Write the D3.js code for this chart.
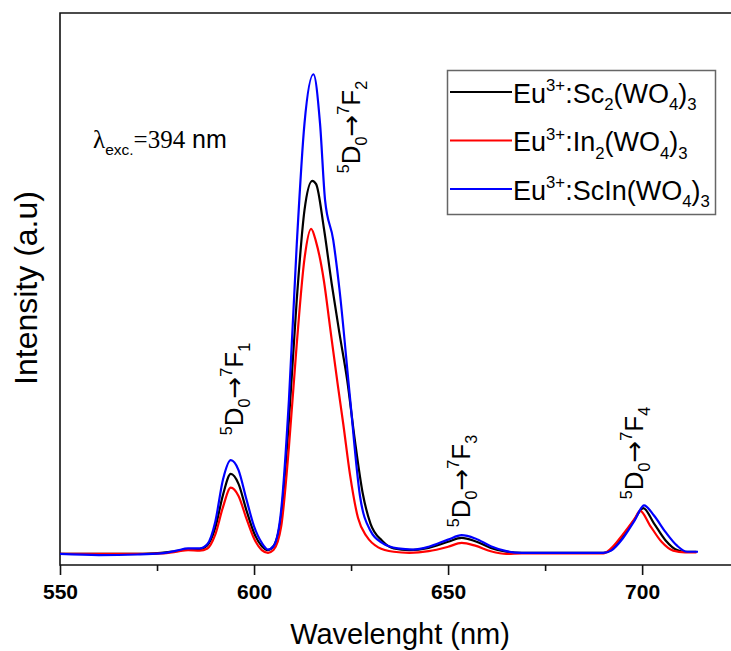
<!DOCTYPE html>
<html><head><meta charset="utf-8">
<script src="https://cdn.jsdelivr.net/npm/d3@7"></script>
<style>html,body{margin:0;padding:0;background:#fff;}svg{display:block;}</style>
</head><body>
<svg id="c" width="731" height="651"></svg>
<script>
// Wavelength (nm) and intensity (a.u.)
const wlBlack = [550,560,570,576,580,583,586,588,590,592,594,596,598,600,602,603.6,605,607,609,611,613,615,616,618,620,622,624,626,628,630,633,636,640,645,650,653.5,657,661,665,669,690,692,695,698,700.3,703,706,709,711,714];
const black   = [0.020,0.020,0.020,0.022,0.025,0.029,0.029,0.036,0.067,0.127,0.165,0.147,0.100,0.058,0.034,0.027,0.034,0.091,0.263,0.480,0.643,0.696,0.690,0.610,0.510,0.420,0.335,0.225,0.130,0.075,0.044,0.030,0.027,0.031,0.042,0.049,0.043,0.031,0.024,0.022,0.022,0.027,0.051,0.082,0.103,0.076,0.045,0.027,0.024,0.024];

const wlRed = [550,560,570,576,580,583,586,588,590,592,594,596,598,600,602,603.6,605,607,609,611,613,614.7,616,618,619.6,621.6,623,624.7,626.8,629,632,636,640,645,650,653.5,657,661,665,669,690,692,695,698,699.5,702,705,708,711,714];
const red   = [0.020,0.020,0.020,0.021,0.024,0.027,0.026,0.030,0.055,0.105,0.140,0.125,0.085,0.048,0.027,0.022,0.027,0.070,0.215,0.400,0.555,0.609,0.585,0.515,0.430,0.325,0.255,0.165,0.085,0.052,0.032,0.024,0.022,0.025,0.033,0.040,0.035,0.025,0.020,0.021,0.021,0.030,0.055,0.083,0.098,0.072,0.042,0.026,0.023,0.023];

const wlBlue = [550,560,570,576,580,583,586,588,590,592,594,596,598,600,602,603.6,605,607,609,611,613,615.3,617,618.3,620.4,622,624.7,627.3,630,633,637,641,645,650,653.5,657,661,665,669,690,692,695,698,700.5,703,706,709,711.6,714.4];
const blue   = [0.020,0.018,0.019,0.021,0.026,0.030,0.030,0.038,0.078,0.155,0.190,0.172,0.120,0.070,0.040,0.028,0.034,0.100,0.300,0.580,0.800,0.889,0.800,0.661,0.589,0.500,0.305,0.125,0.062,0.040,0.030,0.028,0.033,0.046,0.054,0.048,0.034,0.025,0.022,0.022,0.026,0.048,0.080,0.108,0.090,0.060,0.035,0.024,0.024];

const xTicks = [550,600,650,700];
const xMinorTicks = [575,625,675];
const seriesNames = ["Sc", "In", "ScIn"];
const seriesColors = ["#000000","#ff0000","#0000ff"];

const svg = d3.select("#c");
const L = 60, T = 13, R = 731, B = 565;
const x = d3.scaleLinear().domain([550, 722.9]).range([L, R]);
const y = d3.scaleLinear().domain([0, 1]).range([B, T]);

// frame
svg.append("path").attr("d", `M${R+2},${T}H${L}V${B}H${R+2}`)
  .attr("fill","none").attr("stroke","#111").attr("stroke-width",1.6);

// x axis ticks
const xa = svg.append("g").attr("transform",`translate(0,${B})`)
  .call(d3.axisBottom(x).tickValues(xTicks).tickSize(10).tickPadding(9).tickFormat(d3.format("d")));
xa.select(".domain").remove();
xa.selectAll("line").attr("stroke","#111").attr("stroke-width",1.6);
xa.selectAll("text").attr("font-family","Liberation Sans, Arial, sans-serif")
  .attr("font-size",21).attr("font-weight","bold").attr("fill","#000");
const xm = svg.append("g").attr("transform",`translate(0,${B})`)
  .call(d3.axisBottom(x).tickValues(xMinorTicks).tickSize(6).tickFormat(""));
xm.select(".domain").remove();
xm.selectAll("line").attr("stroke","#111").attr("stroke-width",1.6);

// series
const line = d3.line().x(d=>x(d[0])).y(d=>y(d[1])).curve(d3.curveMonotoneX);
const data = [d3.zip(wlBlack, black), d3.zip(wlRed, red), d3.zip(wlBlue, blue)];
data.forEach((d,i)=>{
  svg.append("path").datum(d).attr("d", line).attr("fill","none")
    .attr("stroke", seriesColors[i]).attr("stroke-width",2.2).attr("stroke-linejoin","round");
});

const SANS = "Liberation Sans, Arial, sans-serif";
// axis titles
svg.append("text").attr("x",400).attr("y",644).attr("text-anchor","middle")
  .attr("font-family",SANS).attr("font-size",29).text("Wavelenght (nm)");
svg.append("text").attr("transform","translate(37,288) rotate(-90)").attr("text-anchor","middle")
  .attr("font-family",SANS).attr("font-size",32).text("Intensity (a.u)");

// helper for rich text
function rich(sel, parts, size){
  let shift = 0;
  parts.forEach(([t,type,fam])=>{
    const ts = sel.append("tspan").text(t);
    if (fam) ts.attr("font-family", fam);
    let target = 0, fs = size;
    if (type==="sup"){ target = -0.42*size; fs = size*0.62; }
    else if (type==="sub"){ target = 0.28*size; fs = size*0.62; }
    ts.attr("font-size", fs).attr("dy", target - shift);
    shift = target;
  });
}

// legend
svg.append("rect").attr("x",447.5).attr("y",70.5).attr("width",268).attr("height",144)
  .attr("fill","#fff").attr("stroke","#666").attr("stroke-width",1.5);
const legRows = [
  [["Eu","n"],["3+","sup"],[":Sc","n"],["2","sub"],["(WO","n"],["4","sub"],[")","n"],["3","sub"]],
  [["Eu","n"],["3+","sup"],[":In","n"],["2","sub"],["(WO","n"],["4","sub"],[")","n"],["3","sub"]],
  [["Eu","n"],["3+","sup"],[":ScIn(WO","n"],["4","sub"],[")","n"],["3","sub"]]
];
seriesNames.forEach((n,i)=>{
  const ly = 92 + i*48.5;
  svg.append("line").attr("x1",450).attr("x2",512).attr("y1",ly).attr("y2",ly)
    .attr("stroke",seriesColors[i]).attr("stroke-width",2.2);
  const t = svg.append("text").attr("x",513).attr("y",ly+10.7)
    .attr("font-family",SANS).attr("font-size",27);
  rich(t, legRows[i], 27);
});

// excitation label
const ex = svg.append("text").attr("x",93).attr("y",148).attr("font-size",25)
  .attr("font-family","Liberation Serif, Times New Roman, serif");
rich(ex, [["λ","n"],["exc.","sub",SANS],["=394","n"],[" nm","n",SANS]], 25);

// transition labels
const transitions = [
  {bx:243, cy:389, f:"1"},
  {bx:360, cy:127, f:"2"},
  {bx:470, cy:481, f:"3"},
  {bx:643, cy:453, f:"4"}
];
transitions.forEach(tr=>{
  const t = svg.append("text").attr("transform",`translate(${tr.bx},${tr.cy}) rotate(-90)`)
    .attr("text-anchor","middle").attr("font-family",SANS).attr("font-size",26);
  rich(t, [["5","sup"],["D","n"],["0","sub"],["→","n","DejaVu Sans"],["7","sup"],["F","n"],[tr.f,"sub"]], 26);
});
</script>
</body></html>
